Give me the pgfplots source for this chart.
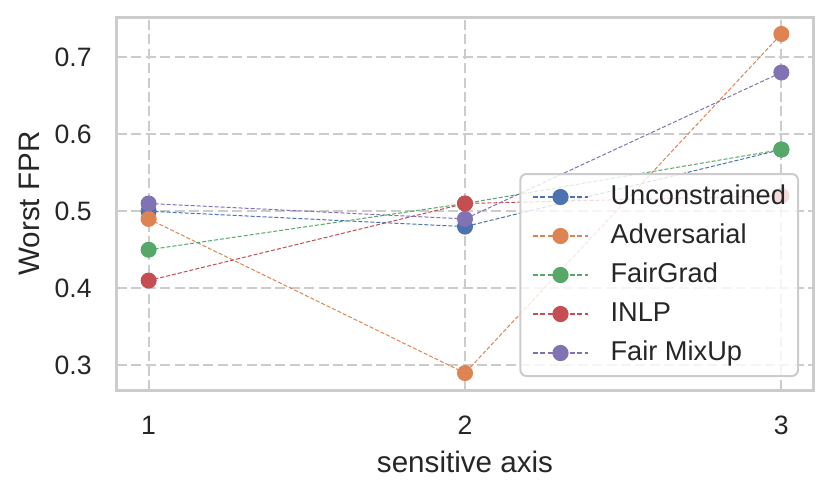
\documentclass[border=0pt]{standalone}
\usepackage{pgfplots}
\pgfplotsset{compat=1.18}
\usepackage{fontspec}
\setmainfont{Liberation Sans}
\definecolor{sbblue}{HTML}{4C72B0}
\definecolor{sborange}{HTML}{DD8452}
\definecolor{sbgreen}{HTML}{55A868}
\definecolor{sbred}{HTML}{C44E52}
\definecolor{sbpurple}{HTML}{8172B3}
\definecolor{sbgrid}{HTML}{CCCCCC}
\definecolor{sbtext}{HTML}{262626}
\begin{document}
\begin{tikzpicture}
\path[use as bounding box] (-58.5pt,-52.5pt) rectangle (357pt,195pt);
\begin{axis}[
  at={(0,0)}, anchor=south west,
  scale only axis, width=348pt, height=186.5pt,
  xmin=0.9, xmax=3.1, ymin=0.268, ymax=0.752,
  xtick={1,2,3}, ytick={0.3,0.4,0.5,0.6,0.7},
  yticklabels={0.3,0.4,0.5,0.6,0.7},
  xticklabels={1,2,3},
  major tick length=0pt,
  axis line style={draw=sbgrid, line width=1.5pt},
  grid=major,
  major grid style={draw=sbgrid, line width=1pt, dash pattern=on 5pt off 2.2pt},
  tick label style={font=\fontsize{13.3}{15}\selectfont, text=sbtext},
  xticklabel style={anchor=center, yshift=-17.5pt, inner sep=0pt},
  yticklabel style={anchor=east, xshift=-12.5pt, inner sep=0pt},
  xlabel={sensitive axis}, ylabel={Worst FPR},
  label style={font=\fontsize{14.8}{17}\selectfont, text=sbtext},
  xlabel style={at={(axis description cs:0.5,-0.193)}, anchor=center},
  ylabel style={at={(axis description cs:-0.1264,0.5)}, anchor=center},
  every axis plot/.append style={line width=0.5pt, dash pattern=on 2pt off 1pt},
  legend cell align=left,
  legend image code/.code={\draw[mark repeat=2,mark phase=2,#1,opacity=1,line width=0.6pt,sharp corners,dash pattern=on 2.5pt off 1.2pt] plot coordinates {(0pt,0pt)(13.75pt,0pt)(27.5pt,0pt)};},
  legend style={at={(rel axis cs:1,0)}, anchor=south east, xshift=-7pt, yshift=6.5pt,
    draw=sbgrid, line width=1pt, rounded corners=3pt, fill=white, fill opacity=0.8, text opacity=1,
    font=\fontsize{13.6}{15}\selectfont,
    inner xsep=6pt, inner ysep=5.5pt, row sep=7.5pt,
    nodes={inner sep=0pt, text height=9.5pt, text depth=2.5pt},
    /tikz/every odd column/.append style={column sep=11pt},
    /tikz/every even column/.append style={text=sbtext}},
]
\addplot[color=sbblue, mark=*, mark size=3.75pt, mark options={solid, draw=none, fill=sbblue}] coordinates {(1,0.50) (2,0.48) (3,0.58)};
\addlegendentry{Unconstrained}
\addplot[color=sborange, mark=*, mark size=3.75pt, mark options={solid, draw=none, fill=sborange}] coordinates {(1,0.49) (2,0.29) (3,0.73)};
\addlegendentry{Adversarial}
\addplot[color=sbgreen, mark=*, mark size=3.75pt, mark options={solid, draw=none, fill=sbgreen}] coordinates {(1,0.45) (2,0.51) (3,0.58)};
\addlegendentry{FairGrad}
\addplot[color=sbred, mark=*, mark size=3.75pt, mark options={solid, draw=none, fill=sbred}] coordinates {(1,0.41) (2,0.51) (3,0.52)};
\addlegendentry{INLP}
\addplot[color=sbpurple, mark=*, mark size=3.75pt, mark options={solid, draw=none, fill=sbpurple}] coordinates {(1,0.51) (2,0.49) (3,0.68)};
\addlegendentry{Fair MixUp}
\end{axis}
\end{tikzpicture}
\end{document}
